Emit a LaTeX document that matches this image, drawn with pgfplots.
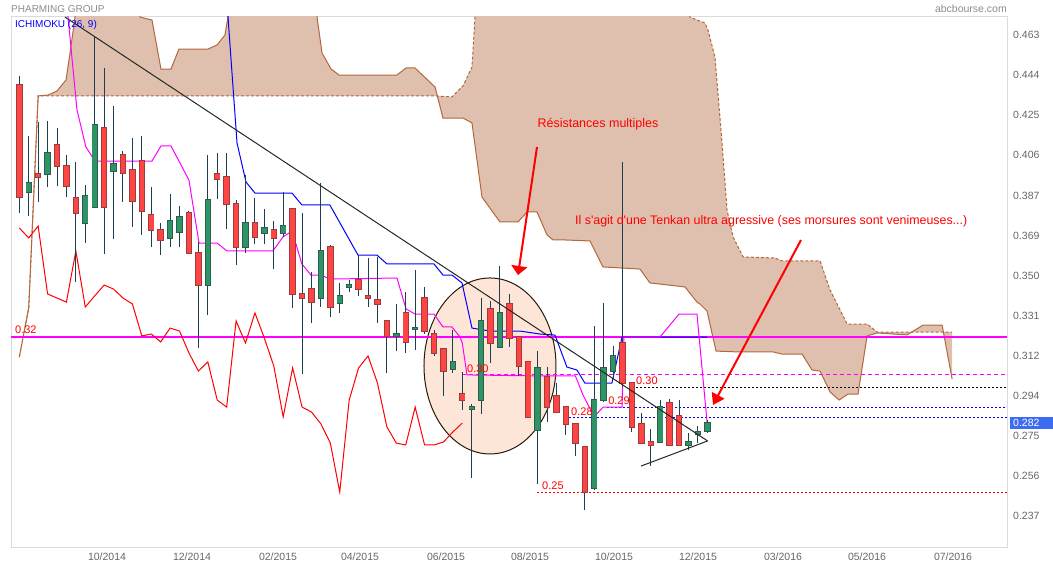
\documentclass[border=0pt]{standalone}
\usepackage{pgfplots}
\pgfplotsset{compat=1.18}
\usepackage{pgfplotstable}
\usepgfplotslibrary{fillbetween}
\usetikzlibrary{arrows.meta}
\usepackage{fontspec}
\setmainfont{Liberation Sans}
\newfontfamily\annfont{Liberation Sans}

\definecolor{cred}{HTML}{FF4444}
\definecolor{credo}{HTML}{9E3B3B}
\definecolor{cgreen}{HTML}{2E9466}
\definecolor{cgreeno}{HTML}{2B5E4F}
\definecolor{wick}{HTML}{1E3F4F}
\definecolor{cloud}{HTML}{DFC0AE}
\definecolor{cloudedge}{HTML}{B0683E}
\definecolor{pricebox}{HTML}{3D6CF2}
\definecolor{ellfill}{HTML}{FDE5D7}
\definecolor{mag}{RGB}{255,0,255}
\definecolor{pblue}{RGB}{0,0,255}
\definecolor{pred}{RGB}{255,0,0}

% weekly candles: index, open, high, low, close
\pgfplotstableread{
i o h l c
1 0.4395 0.4437 0.3794 0.3869
3 0.3977 0.4222 0.3846 0.3963
5 0.4114 0.4193 0.3921 0.4015
6 0.4015 0.4067 0.3869 0.3921
7 0.3865 0.4034 0.3470 0.3794
10 0.4193 0.4475 0.3602 0.3822
12 0.4067 0.4085 0.3846 0.3982
13 0.3996 0.4146 0.3729 0.3851
14 0.4038 0.4156 0.3691 0.3804
15 0.3785 0.3916 0.3635 0.3714
16 0.3714 0.3747 0.3597 0.3668
19 0.3794 0.3804 0.3602 0.3606
20 0.3606 0.3658 0.3160 0.3456
22 0.3977 0.4076 0.3860 0.3954
23 0.3963 0.4076 0.3719 0.3837
24 0.3837 0.3855 0.3550 0.3635
26 0.3747 0.3865 0.3649 0.3682
28 0.3714 0.3757 0.3531 0.3677
30 0.3813 0.3818 0.3348 0.3414
31 0.3414 0.3794 0.3038 0.3395
32 0.3437 0.3517 0.3278 0.3376
34 0.3635 0.3644 0.3306 0.3353
37 0.3480 0.3597 0.3405 0.3437
38 0.3405 0.3583 0.3353 0.3395
39 0.3386 0.3588 0.3278 0.3367
40 0.3287 0.3287 0.3043 0.3217
42 0.3325 0.3423 0.3137 0.3189
44 0.3395 0.3447 0.3226 0.3240
45 0.3226 0.3245 0.3123 0.3137
46 0.3156 0.3156 0.2935 0.3052
48 0.2944 0.3048 0.2869 0.2916
51 0.3344 0.3381 0.3090 0.3184
53 0.3367 0.3414 0.3165 0.3207
54 0.3212 0.3212 0.3029 0.3076
55 0.3095 0.3095 0.2832 0.2837
57 0.3024 0.3071 0.2813 0.2883
58 0.2935 0.2996 0.2855 0.2860
59 0.2883 0.2883 0.2752 0.2804
60 0.2804 0.2804 0.2653 0.2714
61 0.2696 0.2696 0.2400 0.2484
65 0.3184 0.4034 0.2977 0.2996
66 0.2996 0.2996 0.2766 0.2790
67 0.2804 0.2855 0.2714 0.2714
68 0.2719 0.2780 0.2606 0.2705
70 0.2902 0.2921 0.2705 0.2705
71 0.2841 0.2916 0.2705 0.2705
}\redtab

\pgfplotstableread{
i o h l c
2 0.3893 0.4156 0.3780 0.3935
4 0.3977 0.4226 0.3916 0.4076
8 0.3747 0.3926 0.3653 0.3874
9 0.3822 0.4625 0.3818 0.4207
11 0.3991 0.4297 0.3672 0.4024
17 0.3677 0.3883 0.3635 0.3757
18 0.3705 0.3827 0.3635 0.3776
21 0.3456 0.4067 0.3315 0.3855
25 0.3635 0.3973 0.3606 0.3747
27 0.3700 0.3813 0.3649 0.3724
29 0.3700 0.3893 0.3682 0.3733
33 0.3395 0.3935 0.3353 0.3616
35 0.3372 0.3466 0.3325 0.3405
36 0.3447 0.3480 0.3423 0.3456
41 0.3217 0.3367 0.3146 0.3226
43 0.3250 0.3527 0.3151 0.3254
47 0.3062 0.3245 0.3043 0.3095
49 0.2874 0.2898 0.2550 0.2883
50 0.2916 0.3395 0.2851 0.3287
52 0.3165 0.3545 0.3160 0.3325
56 0.2775 0.3146 0.2522 0.3067
62 0.2503 0.3264 0.2494 0.2916
63 0.2916 0.3372 0.2907 0.3067
64 0.3052 0.3170 0.3015 0.3123
69 0.2719 0.2916 0.2719 0.2883
72 0.2705 0.2761 0.2682 0.2719
73 0.2757 0.2794 0.2714 0.2766
74 0.2771 0.2822 0.2761 0.2808
}\greentab

\pgfplotstableread{
x y
1 0.3724
2 0.3677
3 0.3733
4 0.3414
5 0.3395
6 0.3376
7 0.3616
8 0.3353
9 0.3405
10 0.3456
11 0.3437
12 0.3395
13 0.3367
14 0.3217
15 0.3226
16 0.3189
17 0.3254
18 0.3240
19 0.3137
20 0.3052
21 0.3095
22 0.2916
23 0.2883
24 0.3287
25 0.3184
26 0.3325
27 0.3207
28 0.3076
29 0.2837
30 0.3067
31 0.2883
32 0.2860
33 0.2804
34 0.2714
35 0.2484
36 0.2916
37 0.3067
38 0.3123
39 0.2996
40 0.2790
41 0.2714
42 0.2705
43 0.2883
44 0.2705
45 0.2705
46 0.2719
47 0.2766
48 0.2808
}\chikou

\pgfplotstableread{
x y
5.96 0.4810
7.12 0.4278
8.07 0.4104
9.03 0.4038
15.08 0.4038
16.03 0.4109
17.09 0.4109
19.00 0.3949
20.07 0.3653
21.98 0.3653
23.04 0.3616
27.9 0.3616
28.98 0.3682
29.94 0.3710
30.98 0.3555
31.94 0.3503
33.0 0.3503
33.95 0.3484
41.07 0.3489
42.03 0.3344
42.98 0.3320
45.0 0.3320
45.95 0.3259
46.9 0.3259
47.76 0.3212
48.0 0.3184
48.5 0.3034
56.5 0.3029
60.0 0.3029
60.81 0.2940
61.98 0.2837
62.94 0.2883
64.95 0.2883
65.16 0.3212
68.98 0.3212
71.0 0.3320
72.9 0.3320
73.97 0.2813
}\tenkan

\pgfplotstableread{
x y
22.93 0.4846
24.1 0.4123
25.05 0.3940
26.0 0.3888
29.93 0.3888
30.98 0.3832
33.95 0.3832
36.93 0.3597
38.94 0.3597
40.01 0.3555
45.0 0.3555
45.95 0.3503
46.9 0.3503
47.97 0.3466
49.03 0.3254
50.94 0.3240
54.1 0.3240
56.24 0.3226
57.84 0.3221
59.1 0.3071
60.17 0.3057
61.0 0.2996
63.88 0.2996
64.95 0.3212
73.97 0.3212
}\kijun

\pgfplotstableread{
x y
1 0.3118
2 0.3348
3 0.4344
4.05 0.4348
5.0 0.4367
5.96 0.4419
6.38 0.4545
6.91 0.4714
7.2 0.49
13.5 0.49
13.81 0.4714
15.08 0.4700
16.03 0.4470
17.09 0.4470
17.94 0.4564
21.02 0.4564
21.98 0.4583
22.82 0.4630
23.14 0.4714
23.5 0.49
32.3 0.49
32.59 0.4714
33.12 0.4545
34.08 0.4470
34.93 0.4442
41.07 0.4442
42.03 0.4475
42.98 0.4475
45.11 0.4386
45.95 0.4240
48.08 0.4240
49.03 0.4217
50.09 0.3869
52.0 0.3752
53.91 0.3752
54.87 0.3799
55.93 0.3799
56.99 0.3691
57.62 0.3668
58.68 0.3668
61.55 0.3663
62.92 0.3541
66.85 0.3531
67.91 0.3466
71.63 0.3447
72.9 0.3376
73.22 0.3367
73.97 0.3334
74.92 0.3146
77.15 0.3142
80.97 0.3142
81.92 0.3132
84.05 0.3132
85.11 0.3057
85.96 0.3052
87.02 0.2954
87.98 0.2916
88.93 0.2944
89.99 0.2944
90.95 0.3217
92.01 0.3231
95.19 0.3222
96.89 0.3268
98.91 0.3268
99.97 0.3015
}\senkouA

\pgfplotstableread{
x y
1 0.3118
2 0.3348
3 0.4344
45.11 0.4344
46.9 0.4339
48.08 0.4391
49.03 0.4480
49.35 0.4714
49.6 0.49
71.9 0.49
72.16 0.4714
73.75 0.4686
74.07 0.4653
74.81 0.4526
75.56 0.4123
76.09 0.3808
76.73 0.3682
77.79 0.3588
81.18 0.3583
81.92 0.3569
85.96 0.3569
87.02 0.3433
88.83 0.3273
90.95 0.3273
92.01 0.3235
99.97 0.3235
}\senkouB

\begin{document}
\begin{tikzpicture}
\begin{axis}[
  at={(11pt,21pt)}, anchor=south west,
  scale only axis, width=996pt, height=531pt,
  xmin=0.119, xmax=105.795, ymin=0.22214, ymax=0.47145,
  axis line style={draw=black!14, line width=1pt},
  tick style={draw=none}, major tick length=0pt,
  ytick={0.23704,0.25587,0.2747,0.29353,0.31236,0.33119,0.35002,0.36885,0.38768,0.40651,0.42534,0.44417,0.463},
  yticklabels={0.237,0.256,0.275,0.294,0.312,0.331,0.350,0.369,0.387,0.406,0.425,0.444,0.463},
  yticklabel pos=right,
  yticklabel style={anchor=west, inner sep=0pt, xshift=6pt, font=\fontsize{10.5pt}{12pt}\selectfont, text=black!60},
  xtick={10.305,19.324,28.449,37.149,46.274,55.186,64.098,73.010,82.029,90.941,100.066},
  xticklabels={10/2014,12/2014,02/2015,04/2015,06/2015,08/2015,10/2015,12/2015,03/2016,05/2016,07/2016},
  xticklabel style={anchor=north, inner sep=0pt, yshift=-5pt, font=\fontsize{10.5pt}{12pt}\selectfont, text=black!60},
]
% Ichimoku cloud
\addplot[name path=A, draw=none, forget plot] table[x=x,y=y] {\senkouA};
\addplot[name path=B, draw=none, forget plot] table[x=x,y=y] {\senkouB};
\addplot[fill=cloud, draw=none, forget plot] fill between[of=A and B];
\addplot[cloudedge, line width=1pt, forget plot] table[x=x,y=y] {\senkouA};
\addplot[cloudedge, line width=1pt, dash pattern=on 3pt off 2pt, forget plot] table[x=x,y=y] {\senkouB};

% highlighted zone
\draw[fill=ellfill, draw=black!80!brown, line width=1pt] (axis cs:50.94,0.3076) ellipse [x radius=66pt, y radius=88pt];

% support / resistance levels
\addplot[mag, line width=1.3pt, forget plot] coordinates {(0.119,0.3212) (105.795,0.3212)};
\addplot[mag, line width=1pt, dash pattern=on 4pt off 3pt, forget plot] coordinates {(47.97,0.3034) (105.795,0.3034)};
\addplot[black, line width=1pt, dash pattern=on 2pt off 2pt, forget plot] coordinates {(66.01,0.2977) (105.795,0.2977)};
\addplot[pblue, line width=1pt, dash pattern=on 2pt off 2pt, forget plot] coordinates {(63.36,0.2883) (105.795,0.2883)};
\addplot[pblue, line width=1pt, dash pattern=on 2pt off 2pt, forget plot] coordinates {(58.9,0.2832) (105.795,0.2832)};
\addplot[pred, line width=1pt, dash pattern=on 2pt off 2pt, forget plot] coordinates {(55.93,0.2484) (105.795,0.2484)};

% Ichimoku lines
\addplot[pred, line width=1pt, forget plot] table[x=x,y=y] {\chikou};
\addplot[pblue, line width=1pt, forget plot] table[x=x,y=y] {\kijun};
\addplot[mag, line width=1pt, forget plot] table[x=x,y=y] {\tenkan};

% candles: wicks
\addplot[draw=none, mark=none, forget plot, error bars/.cd, y dir=minus, y explicit, error mark=none, error bar style={draw=wick, line width=1pt}]
  table[x=i, y=h, y error expr=\thisrow{h}-\thisrow{l}] {\redtab};
\addplot[draw=none, mark=none, forget plot, error bars/.cd, y dir=minus, y explicit, error mark=none, error bar style={draw=wick, line width=1pt}]
  table[x=i, y=h, y error expr=\thisrow{h}-\thisrow{l}] {\greentab};
% candles: bodies
\addplot[draw=none, mark=none, forget plot, error bars/.cd, y dir=minus, y explicit, error mark=none, error bar style={draw=credo, line width=6.4pt}]
  table[x=i, y expr=\thisrow{o}+0.00045, y error expr=\thisrow{o}-\thisrow{c}+0.0009] {\redtab};
\addplot[draw=none, mark=none, forget plot, error bars/.cd, y dir=minus, y explicit, error mark=none, error bar style={draw=cred, line width=4.6pt}]
  table[x=i, y=o, y error expr=\thisrow{o}-\thisrow{c}] {\redtab};
\addplot[draw=none, mark=none, forget plot, error bars/.cd, y dir=minus, y explicit, error mark=none, error bar style={draw=cgreeno, line width=6.4pt}]
  table[x=i, y expr=\thisrow{c}+0.00045, y error expr=\thisrow{c}-\thisrow{o}+0.0009] {\greentab};
\addplot[draw=none, mark=none, forget plot, error bars/.cd, y dir=minus, y explicit, error mark=none, error bar style={draw=cgreen, line width=4.6pt}]
  table[x=i, y=c, y error expr=\thisrow{c}-\thisrow{o}] {\greentab};

% trend lines
\addplot[black!85, line width=1pt, forget plot] coordinates {(5.85,0.4714) (74.03,0.2724)};
\addplot[black!85, line width=1pt, forget plot] coordinates {(66.96,0.2606) (74.03,0.2724)};

% level labels
\begin{scope}[every node/.style={inner sep=0pt, anchor=south west, text=pred, font=\fontsize{11pt}{12pt}\selectfont}]
\node[xshift=4pt, yshift=3pt] at (axis cs:0.119,0.3212) {0.32};
\node[xshift=5pt, yshift=2pt] at (axis cs:47.97,0.3034) {0.30};
\node[xshift=4pt, yshift=2pt] at (axis cs:66.01,0.2977) {0.30};
\node[xshift=1pt, yshift=2pt] at (axis cs:63.36,0.2883) {0.29};
\node[xshift=6pt, yshift=2pt] at (axis cs:58.9,0.2832) {0.28};
\node[xshift=5pt, yshift=2pt] at (axis cs:55.93,0.2484) {0.25};
\end{scope}
\end{axis}

% titles
\node[anchor=west, inner sep=0pt, text=black!45, font=\fontsize{10pt}{12pt}\selectfont] at (11pt,560pt) {PHARMING GROUP};
\node[anchor=east, inner sep=0pt, text=black!45, font=\fontsize{10.5pt}{12pt}\selectfont] at (1007pt,560pt) {abcbourse.com};
\node[anchor=west, inner sep=0pt, text=pblue, font=\fontsize{10pt}{12pt}\selectfont] at (15pt,544pt) {ICHIMOKU (26, 9)};

% current price tag
\fill[pricebox] (1010pt,140pt) rectangle (1053pt,152pt);
\node[anchor=west, inner sep=0pt, text=white, font=\fontsize{10.5pt}{12pt}\selectfont] at (1013pt,146pt) {0.282};

% annotations
\draw[pred, line width=2pt, -{Triangle[length=9pt,width=16pt]}] (537pt,422pt) -- (518pt,294pt);
\draw[pred, line width=2pt, -{Triangle[length=11pt,width=14pt]}] (801pt,329pt) -- (713pt,164pt);
\node[inner sep=0pt, text=pred, font=\fontsize{12.5pt}{14pt}\selectfont] at (598pt,445pt) {Résistances multiples};
\node[anchor=west, inner sep=0pt, text=pred, font=\annfont\fontsize{12.4pt}{14pt}\selectfont] at (575pt,348pt) {Il s'agit d'une Tenkan ultra agressive (ses morsures sont venimeuses...)};

\pgfresetboundingbox
\path[use as bounding box] (0,0) rectangle (1053pt,569pt);
\end{tikzpicture}
\end{document}
